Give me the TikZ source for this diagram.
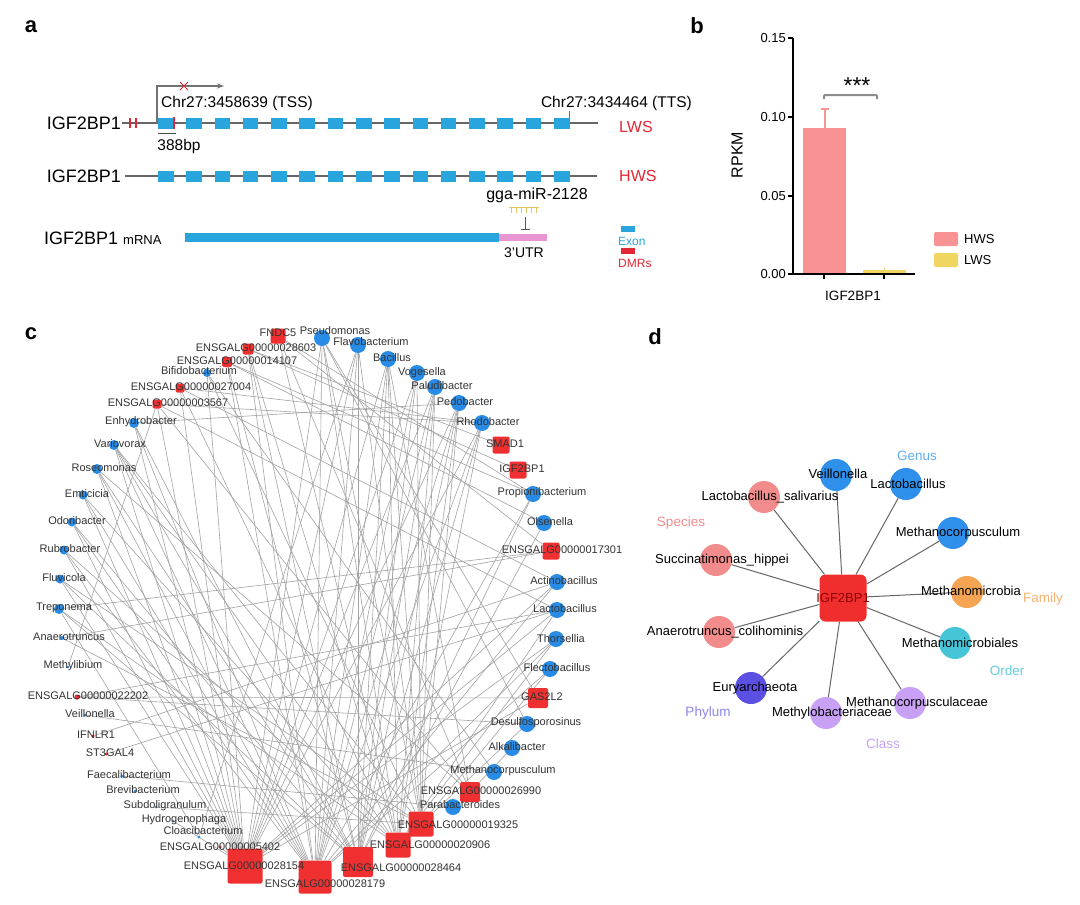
\documentclass[tikz,border=0pt]{standalone}
\usepackage{fontspec}
\setmainfont{Liberation Sans}
\usepackage{tikz}
\usetikzlibrary{arrows.meta}
\pgfdeclarelayer{background}
\pgfsetlayers{background,main}

\definecolor{exonblue}{RGB}{41,165,222}
\definecolor{dmrred}{RGB}{226,40,52}
\definecolor{utrpink}{RGB}{232,150,210}
\definecolor{mirgold}{RGB}{226,196,96}
\definecolor{hwspink}{RGB}{249,146,146}
\definecolor{lwsgold}{RGB}{240,214,96}
\definecolor{bugblue}{RGB}{40,140,230}
\definecolor{genered}{RGB}{240,48,48}
\definecolor{spcpink}{RGB}{242,140,140}
\definecolor{genblue}{RGB}{46,144,235}
\definecolor{famorange}{RGB}{245,164,84}
\definecolor{ordcyan}{RGB}{70,196,216}
\definecolor{phyviolet}{RGB}{92,80,228}
\definecolor{clslav}{RGB}{200,160,246}

\newcommand{\fsz}[1]{\fontsize{#1}{#1}\selectfont}

\begin{document}
\begin{tikzpicture}[x=1pt,y=-1pt]
    \tikzstyle{panel}=[font=\fsz{22}\bfseries,inner sep=0pt]
    \tikzstyle{genelab}=[font=\fsz{18},inner sep=0pt]
    \tikzstyle{chrlab}=[font=\fsz{15.5},inner sep=0pt]
    \tikzstyle{grouplab}=[font=\fsz{16},text=dmrred,inner sep=0pt]
    \tikzstyle{genomeline}=[line width=1.3pt,color=black!60]
    \tikzstyle{exon}=[fill=exonblue]
    \tikzstyle{dmr}=[line width=1.6pt,color=dmrred]
    \tikzstyle{tss}=[line width=1.2pt,color=black!55]
    \tikzstyle{axisline}=[line width=2pt,color=black]
    \tikzstyle{ticklab}=[font=\fsz{13},inner sep=0pt]
    \tikzstyle{bug}=[circle,fill=bugblue,inner sep=0pt]
    \tikzstyle{gene}=[rectangle,fill=genered,rounded corners=2pt,inner sep=0pt]
    \tikzstyle{netlab}=[font=\fsz{11},text=black!80,inner sep=0pt]
    \tikzstyle{edge}=[line width=0.6pt,color=black!36]
    \tikzstyle{taxon}=[circle,minimum size=32pt,inner sep=0pt]
    \tikzstyle{taxlab}=[font=\fsz{13},inner sep=0pt]
    \tikzstyle{ranklab}=[font=\fsz{13.5},inner sep=0pt]
    \tikzstyle{spoke}=[line width=1pt,color=black!60]

    \begin{pgfonlayer}{background}
        \fill[white] (0,0) rectangle (1080,905);
    \end{pgfonlayer}
    \useasboundingbox (0,0) rectangle (1080,905);

    % Panel a: gene model
    \node[panel] (pa) at (31,27) {a};
    \draw[style=genomeline] (122,123) -- (598,123);
    \draw[style=genomeline] (125,176) -- (597,176);
    \node[style=genelab,anchor=east] (lwsgene) at (121,123) {IGF2BP1};
    \node[style=genelab,anchor=east] (hwsgene) at (121,176) {IGF2BP1};
    \foreach \row in {123,176}
        \foreach \i in {0,...,14}
            \fill[style=exon] ({158+28.29*\i},{\row-5.5}) rectangle ++(15.5,11);
    % DMRs
    \draw[style=dmr] (130,118) -- (130,128) (136,118) -- (136,128) (174,117) -- (174,129);
    % TSS / TTS
    \draw[style=tss,-{Stealth[length=7pt,width=5pt]}] (157,123) -- (157,86) -- (224,86);
    \draw[dmrred,line width=1pt] (180,82) -- (188,90) (180,90) -- (188,82);
    \node[style=chrlab,anchor=west] (tss) at (161,103) {Chr27:3458639 (TSS)};
    \node[style=chrlab,anchor=east] (tts) at (692,103) {Chr27:3434464 (TTS)};
    \draw[style=tss,line width=0.8pt] (569,111) -- (569,118);
    \draw[black!70,line width=0.8pt] (158,133) -- (176,133);
    \node[style=chrlab] (bp) at (179,146) {388bp};
    \node[style=grouplab,anchor=west] (lws) at (619,127) {LWS};
    \node[style=grouplab,anchor=west] (hws) at (619,176) {HWS};
    % miRNA and mRNA
    \node[style=chrlab,font=\fsz{16}] (mir) at (537,195) {gga-miR-2128};
    \draw[mirgold,line width=1pt] (509,207) -- (539,207);
    \foreach \t in {511,516,...,536}
        \draw[mirgold,line width=0.8pt] (\t,207) -- (\t,213);
    \draw[black!65,line width=1pt,-{Bar[width=9pt]}] (525,217) -- (525,230);
    \node[style=genelab,anchor=west] (mrna) at (44,238) {IGF2BP1 {\fsz{13}mRNA}};
    \fill[exonblue] (185,233) rectangle (499,242);
    \fill[utrpink] (499,234) rectangle (547,241);
    \node[style=chrlab,font=\fsz{14}] (utr) at (524,253) {3'UTR};
    \fill[exonblue] (621,226) rectangle (635,232);
    \node[font=\fsz{12},text=exonblue,anchor=west,inner sep=0pt] (exonkey) at (618,241) {Exon};
    \fill[dmrred] (621,248) rectangle (635,254);
    \node[font=\fsz{12},text=dmrred,anchor=west,inner sep=0pt] (dmrkey) at (618,263) {DMRs};

    % Panel b: bar plot
    \node[panel] (pb) at (697,26) {b};
    \fill[hwspink] (803,128) rectangle (846,274);
    \draw[hwspink,line width=2pt] (824.5,128) -- (824.5,109) (820.5,109) -- (828.5,109);
    \fill[lwsgold] (863,270) rectangle (906,274);
    \draw[lwsgold,line width=1.5pt] (884.5,270) -- (884.5,268);
    \draw[style=axisline] (793,38) -- (793,274) -- (915,274);
    \foreach \v/\yy in {0.00/274,0.05/196,0.10/117,0.15/38} {
        \draw[style=axisline,line width=1.5pt] (788,\yy) -- (793,\yy);
        \node[style=ticklab,anchor=east] at (786,\yy) {\v};
    }
    \draw[style=axisline,line width=1.5pt] (824,274) -- (824,279) (884,274) -- (884,279);
    \node[style=ticklab,font=\fsz{13.5}] (xlab) at (853,296) {IGF2BP1};
    \node[style=ticklab,font=\fsz{16},rotate=90] (ylab) at (737,155) {RPKM};
    \draw[black!45,line width=2pt,rounded corners=1pt] (824,99) -- (824,95) -- (877,95) -- (877,99);
    \node[style=ticklab,font=\fsz{23}] (stars) at (857,86) {***};
    \fill[hwspink,rounded corners=2pt] (934,232) rectangle (958,246);
    \node[style=ticklab,anchor=west] (hwskey) at (964,239) {HWS};
    \fill[lwsgold,rounded corners=2pt] (934,253) rectangle (958,267);
    \node[style=ticklab,anchor=west] (lwskey) at (964,260) {LWS};

    % Panel c: correlation network
    \node[panel] (pc) at (31,334) {c};
    \foreach \n/\s/\x/\y/\sz/\lx/\ly/\lab in {
        pseu/bug/322/338/16/335/331/Pseudomonas,
        flav/bug/358/345/16/371/342/Flavobacterium,
        baci/bug/388/359/16/392/358/Bacillus,
        voge/bug/417/373/16/422/373/Vogesella,
        palu/bug/435/387/16/442/386/Paludibacter,
        pedo/bug/459/403/16/465/402/Pedobacter,
        rhod/bug/482/423/16/488/422/Rhodobacter,
        smad/gene/501/445/17/505/444/SMAD1,
        igf/gene/518/470/17/522/469/IGF2BP1,
        prop/bug/533/494/16/542/493/Propionibacterium,
        olse/bug/544/523/16/550/522/Olsenella,
        e17301/gene/551/551/17/562/550/ENSGALG00000017301,
        acti/bug/557/582/16/564/581/Actinobacillus,
        lact/bug/557/610/16/565/609/Lactobacillus,
        thor/bug/556/639/16/561/639/Thorsellia,
        flec/bug/550/669/16/557/668/Flectobacillus,
        gas2/gene/538/698/20/542/697/GAS2L2,
        desu/bug/527/724/16/536/723/Desulfosporosinus,
        alka/bug/512/748/16/517/747/Alkalibacter,
        meth/bug/494/772/16/503/771/Methanocorpusculum,
        e26990/gene/470/792/20/481/791/ENSGALG00000026990,
        para/bug/453/807/16/460/805/Parabacteroides,
        e19325/gene/421/824/25/458/825/ENSGALG00000019325,
        e20906/gene/398/845/25/430/845/ENSGALG00000020906,
        e28464/gene/358/862/30/401/868/ENSGALG00000028464,
        e28179/gene/315/877/33/325/884/ENSGALG00000028179,
        e28154/gene/245/866/35/244/866/ENSGALG00000028154,
        e5402/gene/220/847/3/220/847/ENSGALG00000005402,
        cloa/bug/199/837/3/203/831/Cloacibacterium,
        hydr/bug/173/821/3/184/820/Hydrogenophaga,
        subd/bug/156/807/3/165/806/Subdoligranulum,
        brev/bug/135/791/3/143/790/Brevibacterium,
        faec/bug/122/776/3/129/775/Faecalibacterium,
        st3g/gene/106/754/3/110/753/ST3GAL4,
        ifnl/gene/93/736/3/96/735/IFNLR1,
        veil/bug/85/715/3/90/714/Veillonella,
        e22202/gene/77/697/5/88/696/ENSGALG00000022202,
        mety/bug/68/667/3/73/666/Methylibium,
        anae/bug/62/638/4/69/637/Anaerotruncus,
        trep/bug/59/609/10/64/608/Treponema,
        fluv/bug/60/579/9/64/578/Fluvicola,
        rubr/bug/64/550/9/70/549/Rubrobacter,
        odor/bug/72/522/9/77/521/Odoribacter,
        emti/bug/83/495/9/87/494/Emticicia,
        rose/bug/97/469/10/104/468/Roseomonas,
        vari/bug/114/445/10/120/444/Variovorax,
        enhy/bug/134/423/10/141/422/Enhydrobacter,
        e3567/gene/157/404/9/168/403/ENSGALG00000003567,
        e27004/gene/180/388/9/191/387/ENSGALG00000027004,
        bifi/bug/207/373/8/199/371/Bifidobacterium,
        e14107/gene/227/362/10/237/361/ENSGALG00000014107,
        e28603/gene/248/349/11/256/348/ENSGALG00000028603,
        fndc/gene/278/336/15/278/333/FNDC5} {
        \node[style=\s,minimum size=\sz pt] (\n) at (\x,\y) {};
        \node[style=netlab] (\n-t) at (\lx,\ly) {\lab};
    }
    \begin{pgfonlayer}{background}
    \foreach \h/\tgts in {
        e28154/{pseu,flav,baci,voge,palu,pedo,rhod,enhy,vari,rose,emti,odor,rubr,fluv,bifi,e27004,e3567,acti,lact,e5402,hydr,thor,gas2},
        e28179/{pseu,flav,baci,voge,palu,pedo,rhod,enhy,vari,rose,emti,odor,rubr,e28603,e14107,thor,flec,prop,acti},
        e28464/{flav,baci,voge,palu,pedo,rhod,prop,enhy,vari,rose,odor,fluv,trep,e14107,olse,e28603},
        e20906/{pseu,baci,palu,pedo,rhod,emti,rubr,trep,e28603,lact,thor,e27004,fndc,vari},
        e19325/{pseu,flav,voge,pedo,vari,fluv,bifi,anae,flec,desu,subd,baci,palu},
        e26990/{baci,e3567,rose,alka,fndc},
        fndc/{prop,e17301},
        e28603/{smad,igf},
        e14107/{prop,olse},
        e27004/{acti,rhod},
        e3567/{mety,lact,rhod},
        bifi/{meth},
        trep/{cloa},
        e17301/{trep},
        lact/{e22202},
        e22202/{gas2,desu},
        ifnl/{acti},
        st3g/{lact},
        faec/{para},
        veil/{meth},
        anae/{e17301},
        pseu/{desu,gas2},
        flav/{cloa},
        pedo/{enhy}}
        \foreach \tgt in \tgts
            \draw[style=edge] (\h) -- (\tgt);
    \end{pgfonlayer}

    % Panel d: IGF2BP1 and taxa
    \node[panel] (pd) at (655,337) {d};
    \node[rectangle,fill=genered!95!red,rounded corners=6pt,minimum size=47pt] (hubd) at (843,598) {};
    \node[style=taxlab,text=red!55!black] (hubd-t) at (843,598) {IGF2BP1};
    \foreach \n/\c/\x/\y/\lx/\ly/\lab in {
        veid/genblue/836/475/838/474/Veillonella,
        lacd/genblue/906/484/908/484/Lactobacillus,
        lsal/spcpink/764/497/770/497/Lactobacillus\_salivarius,
        mcor/genblue/953/533/958/533/Methanocorpusculum,
        succ/spcpink/716/560/722/560/Succinatimonas\_hippei,
        mmia/famorange/967/592/971/591/Methanomicrobia,
        anco/spcpink/719/632/725/632/Anaerotruncus\_colihominis,
        mmil/ordcyan/955/643/960/643/Methanomicrobiales,
        eury/phyviolet/751/688/755/688/Euryarchaeota,
        mbac/clslav/826/713/832/713/Methylobacteriaceae,
        mcac/clslav/910/703/917/703/Methanocorpusculaceae} {
        \node[style=taxon,fill=\c] (\n) at (\x,\y) {};
        \node[style=taxlab] (\n-t) at (\lx,\ly) {\lab};
        \begin{pgfonlayer}{background}
            \draw[style=spoke] (hubd) -- (\n);
        \end{pgfonlayer}
    }
    \node[style=ranklab,text=genblue!75] (genus) at (917,456) {Genus};
    \node[style=ranklab,text=spcpink] (species) at (681,523) {Species};
    \node[style=ranklab,text=famorange!85] (family) at (1043,599) {Family};
    \node[style=ranklab,text=ordcyan!85] (order) at (1007,671) {Order};
    \node[style=ranklab,text=phyviolet!70] (phylum) at (708,713) {Phylum};
    \node[style=ranklab,text=clslav] (class) at (883,744) {Class};
\end{tikzpicture}
\end{document}
